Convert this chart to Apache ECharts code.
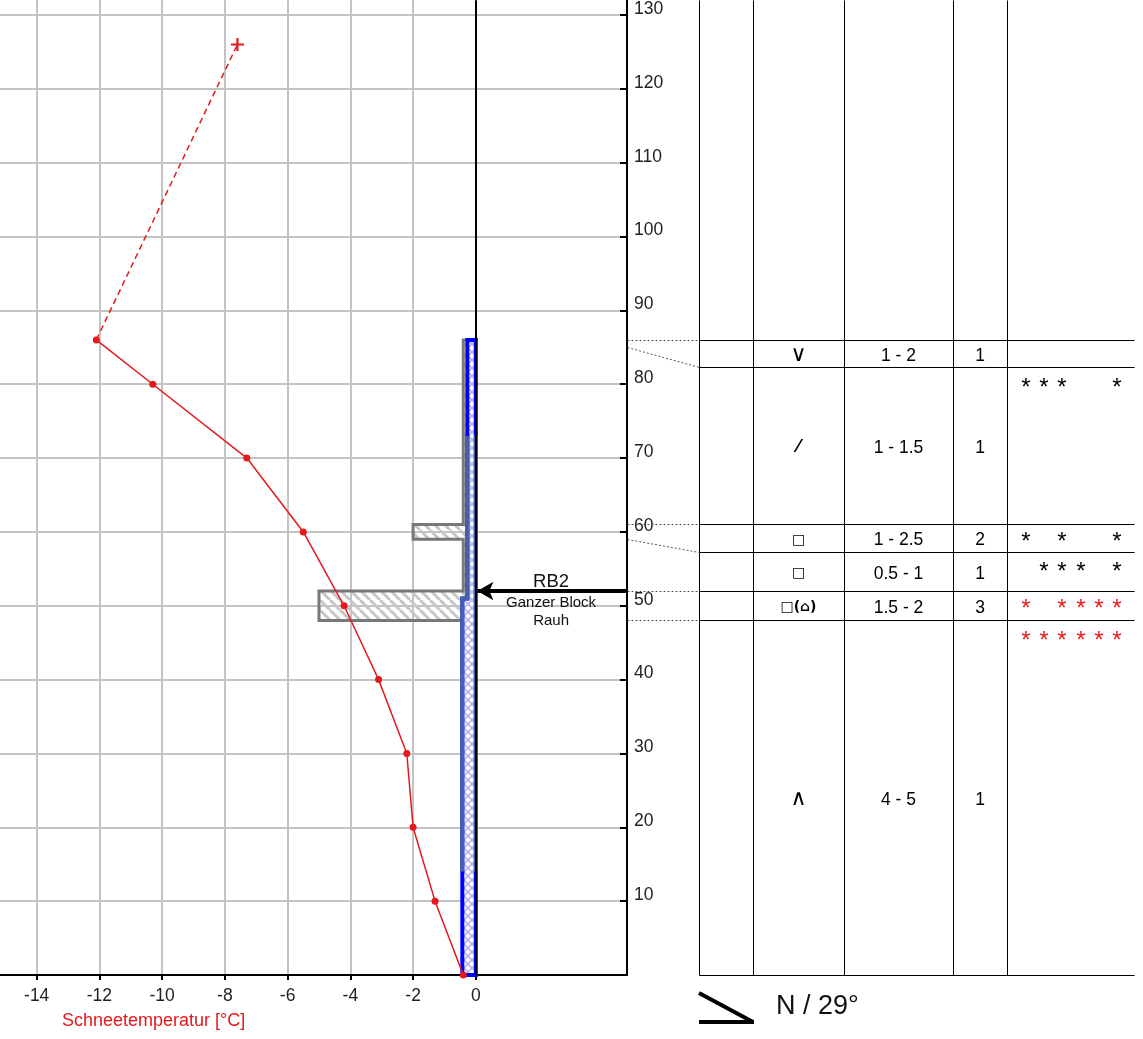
<!DOCTYPE html>
<html>
<head>
<meta charset="utf-8">
<script src="https://cdn.jsdelivr.net/npm/echarts@6/dist/echarts.min.js"></script>
<style>
html, body { margin: 0; padding: 0; background: #fff; }
#chart { width: 1143px; height: 1039px; }
</style>
</head>
<body>
<div id="chart"></div>
<script>
// axis ticks
const xTicks = [-14, -12, -10, -8, -6, -4, -2, 0];
const yTicks = [0, 10, 20, 30, 40, 50, 60, 70, 80, 90, 100, 110, 120, 130];

// snow temperature profile (height cm, temp °C)
const tempHeights = [0, 10, 20, 30, 40, 50, 60, 70, 80, 86];
const snowTemps = [-0.4, -1.3, -2.0, -2.2, -3.1, -4.2, -5.5, -7.3, -10.3, -12.1];
const airHeight = 126;
const airTemp = -7.6;

// layers, bottom to top
const layerBounds = [0, 48, 52, 59, 61, 85, 86];
const tableBounds = [0, 48, 52, 57.3, 61, 82.3, 86];
const hardnessWidth = [-0.4, -5.0, -0.4, -2.0, -0.4, -0.4];
const grainShapes = ['∧', '□(⌂)', '□', '□', '⁄', '∨'];
const grainSizes = ['4 - 5', '1.5 - 2', '0.5 - 1', '1 - 2.5', '1 - 1.5', '1 - 2'];
const hardnessCodes = ['1', '3', '1', '2', '1', '1'];
const starMarks = ['******', '*.****', '.***.*', '*.*..*', '***..*', '......'];
const starRed = [true, true, false, false, false, false];

// ram profile
const ramBounds = [0, 51, 86];
const ramWidth = [-0.43, -0.27];
const ramMuted = [14, 73];

// stability test
const testHeight = 52;
const testName = 'RB2';
const testResult = ['Ganzer Block', 'Rauh'];

const aspect = 'N';
const slope = 29;

// table layout (table axis units)
const colEdges = [72, 126, 217, 326, 380];
const tableRight = 507;
const colCenters = [171.5, 271.5, 353];
const starCols = [399, 417, 435, 454, 472, 490];

const FONT = '"Liberation Sans", Arial, sans-serif';
const SYMFONT = '"DejaVu Sans", sans-serif';
const RED = '#e5191d';

function makePattern(size, draw) {
  const c = document.createElement('canvas');
  c.width = c.height = size;
  draw(c.getContext('2d'), size);
  return c;
}
const grayHatch = makePattern(10, (ctx, s) => {
  ctx.strokeStyle = '#c6c6c6';
  ctx.lineWidth = 3;
  for (const o of [-s, 0, s]) {
    ctx.beginPath(); ctx.moveTo(o, 0); ctx.lineTo(o + s, s); ctx.stroke();
  }
});
const blueCross = makePattern(8, (ctx, s) => {
  ctx.fillStyle = '#fff';
  ctx.fillRect(0, 0, s, s);
  ctx.strokeStyle = '#a9aeea';
  ctx.lineWidth = 1.5;
  ctx.beginPath();
  ctx.moveTo(0, 0); ctx.lineTo(s, s);
  ctx.moveTo(s, 0); ctx.lineTo(0, s);
  ctx.stroke();
});

function stepPolygon(bounds, values) {
  const pts = [[0, bounds[0]]];
  values.forEach((v, i) => { pts.push([v, bounds[i]]); pts.push([v, bounds[i + 1]]); });
  pts.push([0, bounds[bounds.length - 1]]);
  return pts;
}

// table segments: [x1, y1, x2, y2, dotted]
const segments = [];
colEdges.forEach(c => segments.push([c, 0, c, 132, 0]));
tableBounds.forEach(b => segments.push([colEdges[0], b, tableRight, b, 0]));
layerBounds.forEach((b, i) => { if (i > 0) segments.push([0, b, colEdges[0], tableBounds[i], 1]); });

// table texts
const texts = [];
for (let i = 0; i < grainShapes.length; i++) {
  const lo = tableBounds[i], hi = tableBounds[i + 1];
  const mid = (lo + hi) / 2;
  const g = grainShapes[i];
  const shapeFont = g.indexOf('□') >= 0 ? 'bold 14px ' + SYMFONT : (g === '⁄' ? 'bold 17px ' + SYMFONT : '22px ' + SYMFONT);
  texts.push({ pos: [colCenters[0], mid], text: g, color: '#000', font: shapeFont, dy: 2 });
  texts.push({ pos: [colCenters[1], mid], text: grainSizes[i], color: '#000', font: '17.5px ' + FONT, dy: 2.5 });
  texts.push({ pos: [colCenters[2], mid], text: hardnessCodes[i], color: '#000', font: '17.5px ' + FONT, dy: 2.5 });
  const sy = Math.max(mid, hi - 2.3);
  starMarks[i].split('').forEach((ch, k) => {
    if (ch === '*') texts.push({ pos: [starCols[k], sy], text: '*', color: starRed[i] ? RED : '#000', font: '24px ' + FONT, dy: 4 });
  });
}

const chart = echarts.init(document.getElementById('chart'));

const option = {
  animation: false,
  grid: [
    { left: 0, top: 0, width: 627, bottom: 64 },
    { left: 627, top: 0, width: tableRight, bottom: 64 }
  ],
  xAxis: [
    {
      type: 'value', gridIndex: 0, min: -15.17, max: 4.82,
      axisLine: { onZero: false, lineStyle: { color: '#000', width: 2 } },
      axisTick: { customValues: xTicks, length: 5, lineStyle: { color: '#000', width: 2 } },
      axisLabel: { customValues: xTicks, color: '#222', fontSize: 17.5, fontFamily: FONT, margin: 12 },
      splitLine: { show: true, lineStyle: { color: '#c3c3c3', width: 2 } }
    },
    { type: 'value', gridIndex: 1, min: 0, max: tableRight, show: false }
  ],
  yAxis: [
    {
      type: 'value', gridIndex: 0, position: 'right', min: 0, max: 132,
      axisLine: { show: true, onZero: false, lineStyle: { color: '#000', width: 2 } },
      axisTick: { show: true, inside: true, customValues: yTicks, length: 7, lineStyle: { color: '#000', width: 2 } },
      axisLabel: { customValues: yTicks.filter(v => v > 0), color: '#222', fontSize: 17.5, fontFamily: FONT, margin: 7, verticalAlign: 'bottom', lineHeight: 12 },
      splitLine: { show: true, lineStyle: { color: '#c3c3c3', width: 2 } }
    },
    { type: 'value', gridIndex: 1, min: 0, max: 132, show: false }
  ],
  graphic: [
    { type: 'text', left: 62, top: 1012, style: { text: 'Schneetemperatur [°C]', fill: RED, font: '18px ' + FONT } },
    { type: 'line', shape: { x1: 699, y1: 993, x2: 753, y2: 1022 }, style: { stroke: '#000', lineWidth: 4 } },
    { type: 'line', shape: { x1: 699, y1: 1022, x2: 754, y2: 1022 }, style: { stroke: '#000', lineWidth: 4 } },
    { type: 'text', left: 776, top: 993, style: { text: aspect + ' / ' + slope + '°', fill: '#111', font: '27px ' + FONT } }
  ],
  series: [
    {
      // zero line
      type: 'line', xAxisIndex: 0, yAxisIndex: 0, data: [], z: 1,
      markLine: {
        silent: true, symbol: 'none', label: { show: false },
        lineStyle: { color: '#000', width: 2, type: 'solid' },
        data: [{ xAxis: 0 }]
      }
    },
    {
      // hand hardness
      type: 'custom', xAxisIndex: 0, yAxisIndex: 0, data: [[0, 0]], z: 3,
      renderItem: (params, api) => ({
        type: 'polygon',
        shape: { points: stepPolygon(layerBounds, hardnessWidth).map(p => api.coord(p)) },
        style: { fill: { image: grayHatch, repeat: 'repeat' }, stroke: '#787878', lineWidth: 3, lineJoin: 'miter' }
      })
    },
    {
      // ram profile
      type: 'custom', xAxisIndex: 0, yAxisIndex: 0, data: [[0, 0]], z: 4,
      renderItem: (params, api) => {
        const pts = stepPolygon(ramBounds, ramWidth).map(p => api.coord(p));
        const a = api.coord([-1, ramMuted[1]]);
        const b = api.coord([0.3, ramMuted[0]]);
        return {
          type: 'group',
          children: [
            { type: 'polygon', shape: { points: pts }, style: { fill: { image: blueCross, repeat: 'repeat' }, stroke: '#0000ff', lineWidth: 4 } },
            {
              type: 'polygon', shape: { points: pts }, style: { fill: null, stroke: '#4760ad', lineWidth: 4 },
              clipPath: { type: 'rect', shape: { x: a[0], y: a[1], width: b[0] - a[0], height: b[1] - a[1] } }
            }
          ]
        };
      }
    },
    {
      type: 'line', xAxisIndex: 0, yAxisIndex: 0, z: 10,
      data: tempHeights.map((h, i) => [snowTemps[i], h]),
      symbol: 'circle', symbolSize: 7,
      lineStyle: { color: RED, width: 1.5 }, itemStyle: { color: RED }
    },
    {
      type: 'line', xAxisIndex: 0, yAxisIndex: 0, z: 10,
      data: [
        { value: [snowTemps[snowTemps.length - 1], tempHeights[tempHeights.length - 1]], symbol: 'none' },
        { value: [airTemp, airHeight], symbol: 'path://M5,0H7V5H12V7H7V12H5V7H0V5H5Z', symbolSize: 13 }
      ],
      lineStyle: { color: RED, width: 1.5, type: [6, 4] }, itemStyle: { color: RED }
    },
    {
      // stability test arrow
      type: 'line', xAxisIndex: 0, yAxisIndex: 0, data: [], z: 12,
      markLine: {
        silent: true, symbol: ['none', 'arrow'], symbolSize: [14, 16], label: { show: false },
        lineStyle: { color: '#000', width: 4, type: 'solid' },
        data: [[{ coord: [4.82, testHeight] }, { coord: [0.05, testHeight] }]]
      }
    },
    {
      type: 'custom', xAxisIndex: 0, yAxisIndex: 0, data: [[2.4, testHeight]], z: 12,
      renderItem: (params, api) => {
        const p = api.coord([api.value(0), api.value(1)]);
        const lines = [[testName, 18.5, -9], [testResult[0], 15, 12], [testResult[1], 15, 30]];
        return {
          type: 'group',
          children: lines.map(l => ({
            type: 'text', x: p[0], y: p[1] + l[2],
            style: { text: l[0], fill: '#111', font: l[1] + 'px ' + FONT, align: 'center', verticalAlign: 'middle', textAlign: 'center', textVerticalAlign: 'middle' }
          }))
        };
      }
    },
    {
      // table lines
      type: 'custom', xAxisIndex: 1, yAxisIndex: 1, data: segments, z: 5,
      renderItem: (params, api) => {
        const s = api.coord([api.value(0), api.value(1)]);
        const e = api.coord([api.value(2), api.value(3)]);
        const dotted = api.value(4) === 1;
        const r = v => Math.round(v) + 0.5;
        return {
          type: 'line',
          shape: { x1: r(s[0]), y1: r(s[1]), x2: r(e[0]), y2: r(e[1]) },
          style: { stroke: dotted ? '#555' : '#000', lineWidth: 1, lineDash: dotted ? [2, 2] : null }
        };
      }
    },
    {
      // table texts
      type: 'custom', xAxisIndex: 1, yAxisIndex: 1, data: texts.map(t => t.pos), z: 6,
      renderItem: (params, api) => {
        const t = texts[params.dataIndex];
        const p = api.coord([api.value(0), api.value(1)]);
        return {
          type: 'text', x: p[0], y: p[1] + t.dy,
          style: { text: t.text, fill: t.color, font: t.font, align: 'center', verticalAlign: 'middle', textAlign: 'center', textVerticalAlign: 'middle' }
        };
      }
    }
  ]
};

chart.setOption(option);
</script>
</body>
</html>
